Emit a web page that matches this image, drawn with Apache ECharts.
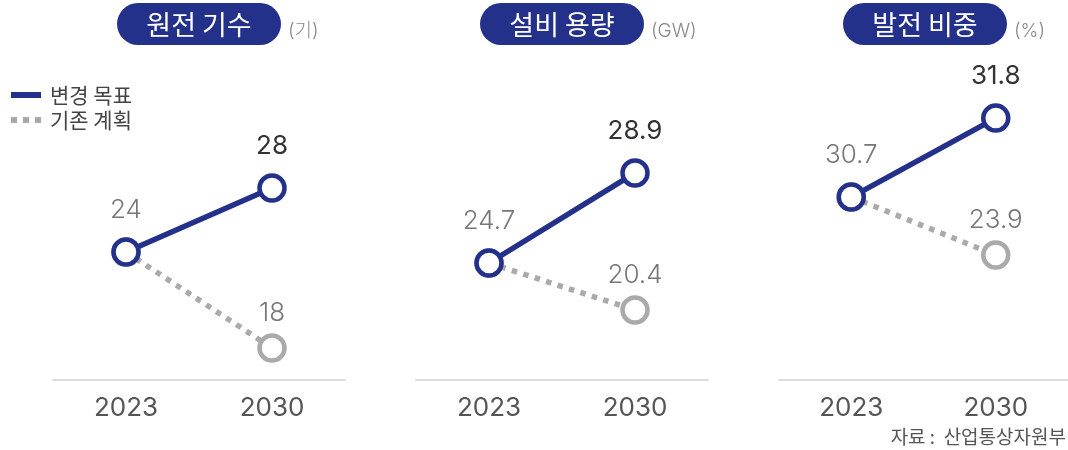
<!DOCTYPE html>
<html>
<head>
<meta charset="utf-8">
<script src="https://cdn.jsdelivr.net/npm/echarts@6/dist/echarts.min.js"></script>
<style>
html,body{margin:0;padding:0;background:#fff;}
#c{width:1068px;height:450px;}
</style>
</head>
<body>
<div id="c"></div>
<script>
// ---- data ----
const years = ['2023', '2030'];
const panelTitles = ['원전 기수', '설비 용량', '발전 비중'];
const panelUnits = ['(기)', '(GW)', '(%)'];
const seriesNames = ['변경 목표', '기존 계획'];
const plantsTarget = [24, 28];
const plantsPrev = [24, 18];
const capacityTarget = [24.7, 28.9];
const capacityPrev = [24.7, 20.4];
const shareTarget = [30.7, 31.8];
const sharePrev = [30.7, 23.9];
const sourceText = '자료 :  산업통상자원부';

const targetData = [plantsTarget, capacityTarget, shareTarget];
const prevData = [plantsPrev, capacityPrev, sharePrev];

// ---- style ----
const BLUE = '#23318a';
const GRAY = '#aaaaaa';
const FONT = 'Inter, "Noto Sans CJK KR", sans-serif';
const KFONT = '"Noto Sans CJK KR", "Noto Sans", sans-serif';
const gridLefts = [53, 416, 779];
const GRID_W = 292;
// hidden value-axis ranges per panel (target axis, previous-plan axis)
const axisRanges = [
  [[16, 36], [16, 36]],
  [[19.24, 34.17], [14.0, 43.27]],
  [[28.15, 32.61], [9.25, 46.76]]
];

const chart = echarts.init(document.getElementById('c'), null, {renderer: 'canvas'});

const grids = [], xAxes = [], yAxes = [], series = [], graphics = [];
for (let p = 0; p < 3; p++) {
  grids.push({left: gridLefts[p], width: GRID_W, top: 60, bottom: 70, containLabel: false});
  xAxes.push({
    type: 'category', gridIndex: p, data: years, boundaryGap: true,
    axisLine: {show: true, lineStyle: {color: '#dddddd', width: 2}},
    axisTick: {show: false}, splitLine: {show: false},
    axisLabel: {color: '#555555', fontSize: 26, fontFamily: FONT, margin: 15}
  });
  for (let k = 0; k < 2; k++) {
    yAxes.push({
      type: 'value', gridIndex: p, min: axisRanges[p][k][0], max: axisRanges[p][k][1],
      show: false, splitLine: {show: false}
    });
  }
  series.push({
    name: seriesNames[1], type: 'line', xAxisIndex: p, yAxisIndex: 2 * p + 1, z: 2,
    data: prevData[p].map((v, i) => ({
      value: v,
      label: {show: i === 1}
    })),
    symbol: 'circle', symbolSize: 25,
    itemStyle: {color: '#ffffff', borderColor: GRAY, borderWidth: 4.5},
    lineStyle: {color: GRAY, width: 5.5, type: [5.5, 6.5], cap: 'butt'},
    label: {position: 'top', distance: 7, color: '#777777', fontSize: 26, fontWeight: 300, fontFamily: FONT},
    emphasis: {disabled: true}, silent: true, animation: false
  });
  series.push({
    name: seriesNames[0], type: 'line', xAxisIndex: p, yAxisIndex: 2 * p, z: 3,
    data: targetData[p].map((v, i) => ({
      value: v,
      label: i === 0 ? {color: '#777777', fontWeight: 300} : {color: '#333333', fontWeight: 400}
    })),
    symbol: 'circle', symbolSize: 25,
    itemStyle: {color: '#ffffff', borderColor: BLUE, borderWidth: 4.5},
    lineStyle: {color: BLUE, width: 5.5},
    label: {show: true, position: 'top', distance: 14, fontSize: 26, fontFamily: FONT},
    emphasis: {disabled: true}, silent: true, animation: false
  });
  const cx = gridLefts[p] + GRID_W / 2;
  graphics.push({
    type: 'rect', shape: {x: cx - 82, y: 3, width: 164, height: 42, r: 21},
    style: {fill: BLUE}, silent: true
  });
  graphics.push({
    type: 'text', x: cx, y: 25,
    style: {text: panelTitles[p], fill: '#ffffff', font: '27px ' + KFONT, align: 'center', verticalAlign: 'middle'},
    silent: true
  });
  graphics.push({
    type: 'text', x: cx + 89, y: 31,
    style: {text: panelUnits[p], fill: '#888888', font: '300 19px ' + FONT, align: 'left', verticalAlign: 'middle'},
    silent: true
  });
}
graphics.push({
  type: 'text', x: 1066, y: 437,
  style: {text: sourceText, fill: '#555555', font: '19px ' + KFONT, align: 'right', verticalAlign: 'middle'},
  silent: true
});

chart.setOption({
  backgroundColor: '#ffffff',
  animation: false,
  grid: grids,
  xAxis: xAxes,
  yAxis: yAxes,
  legend: {
    left: 11, top: 84, orient: 'vertical', itemGap: 3, padding: 0,
    itemWidth: 30, itemHeight: 6, selectedMode: false, symbolKeepAspect: false,
    textStyle: {color: '#444444', fontSize: 21, lineHeight: 22, fontFamily: KFONT, padding: [0, 0, 0, 4]},
    data: [
      {name: seriesNames[0], icon: 'path://M0,0H30V6H0Z', itemStyle: {color: BLUE, borderWidth: 0}},
      {name: seriesNames[1], icon: 'path://M0,0H6V6H0ZM12,0H18V6H12ZM24,0H30V6H24Z', itemStyle: {color: GRAY, borderWidth: 0}}
    ]
  },
  graphic: graphics,
  series: series
});
</script>
</body>
</html>
